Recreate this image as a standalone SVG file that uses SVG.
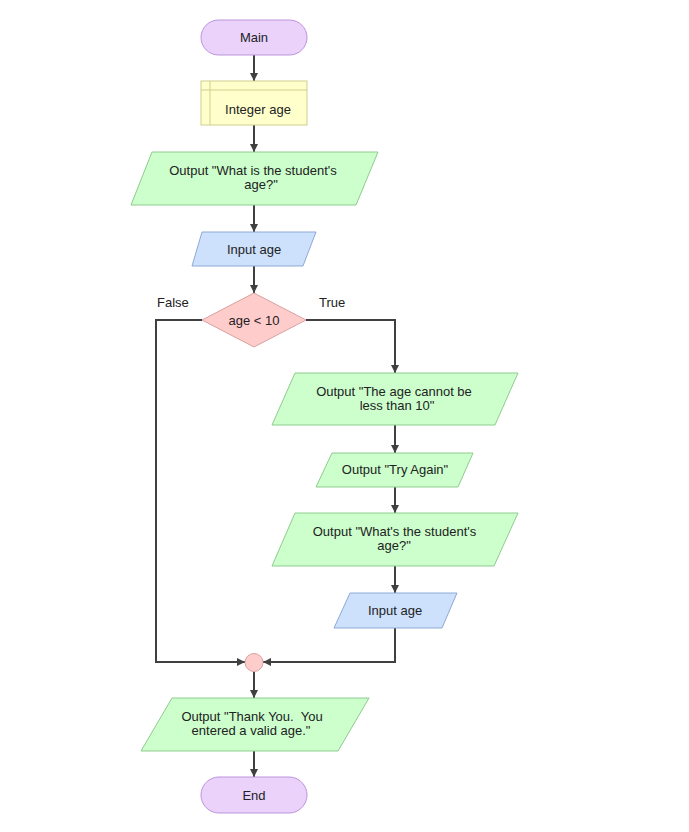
<svg xmlns="http://www.w3.org/2000/svg" width="689" height="832" viewBox="0 0 689 832">
<style>
text{font-family:"Liberation Sans",Arial,sans-serif;font-size:13px;fill:#222;text-anchor:middle}
.term{fill:#ead2fb;stroke:#bd95dc;stroke-width:1}
.decl{fill:#ffffcc;stroke:#cfcf8e;stroke-width:1}
.out{fill:#ccffcc;stroke:#8fcb8f;stroke-width:1}
.in{fill:#cde0fc;stroke:#8ea9d6;stroke-width:1}
.dec{fill:#ffcccc;stroke:#d9a0a0;stroke-width:1}
.edge{fill:none;stroke:#404040;stroke-width:2;marker-end:url(#arr)}
.lbl{text-anchor:start}
</style>
<defs>
<marker id="arr" markerUnits="userSpaceOnUse" markerWidth="9" markerHeight="9" refX="8" refY="4" orient="auto">
<path d="M0,0 L8,4 L0,8 z" fill="#404040"/>
</marker>
</defs>
<rect width="689" height="832" fill="#ffffff"/>
<g id="connectors">
<path class="edge" d="M254,55 V81"/>
<path class="edge" d="M254,125 V152"/>
<path class="edge" d="M254,205 V232"/>
<path class="edge" d="M254,266 V293"/>
<path class="edge" d="M306,320 H395 V373"/>
<path class="edge" d="M202,320 H156 V662 H245"/>
<path class="edge" d="M395,425 V453"/>
<path class="edge" d="M395,487 V513"/>
<path class="edge" d="M395,566 V593"/>
<path class="edge" d="M395,628 V662 H263"/>
<path class="edge" d="M254,672 V698"/>
<path class="edge" d="M254,751 V777"/>
<text class="lbl" x="157" y="307">False</text>
<text class="lbl" x="319" y="307">True</text>
</g>
<g id="main">
<rect class="term" x="201" y="20" width="106" height="35" rx="17.5"/>
<text x="254" y="42">Main</text>
</g>
<g id="declare">
<rect class="decl" x="201" y="81" width="106" height="44"/>
<path d="M210,81 V125 M201,90 H307" fill="none" stroke="#cfcf8e"/>
<text x="258" y="113.5">Integer age</text>
</g>
<g id="output1">
<polygon class="out" points="152,152 378,152 356,205 131,205"/>
<text x="253" y="175">Output "What is the student's</text>
<text x="261" y="189">age?"</text>
</g>
<g id="input1">
<polygon class="in" points="202,232 316,232 303,266 192,266"/>
<text x="254" y="253.5">Input age</text>
</g>
<g id="decision">
<polygon class="dec" points="254,293 306,320 254,347 202,320"/>
<text x="254" y="324.5">age &lt; 10</text>
</g>
<g id="output2">
<polygon class="out" points="295,373 518,373 495,425 272,425"/>
<text x="394" y="396">Output "The age cannot be</text>
<text x="397" y="410">less than 10"</text>
</g>
<g id="output3">
<polygon class="out" points="332,453 473,453 458,487 316,487"/>
<text x="395" y="474">Output "Try Again"</text>
</g>
<g id="output4">
<polygon class="out" points="295,513 518,513 494,566 272,566"/>
<text x="394.5" y="536">Output "What's the student's</text>
<text x="394" y="550">age?"</text>
</g>
<g id="input2">
<polygon class="in" points="350,593 457,593 442,628 334,628"/>
<text x="395" y="615">Input age</text>
</g>
<g id="merge">
<circle class="dec" cx="254" cy="662.5" r="9"/>
</g>
<g id="output5">
<polygon class="out" points="172,698 369,698 338,751 141,751"/>
<text x="252" y="721">Output "Thank You.&#160; You</text>
<text x="251" y="735">entered a valid age."</text>
</g>
<g id="end">
<rect class="term" x="201" y="777" width="106" height="36" rx="18"/>
<text x="254" y="800">End</text>
</g>
</svg>
